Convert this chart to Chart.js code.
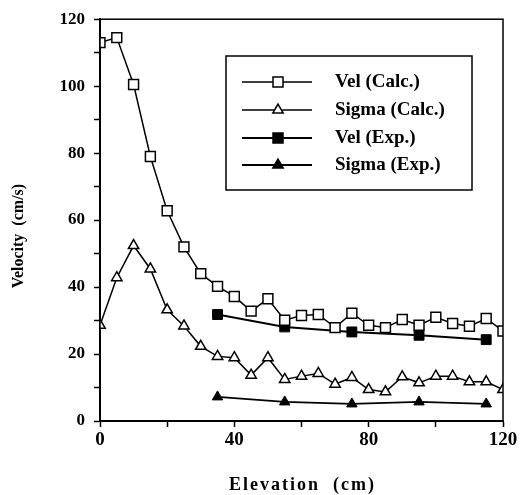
<!DOCTYPE html>
<html>
<head>
<meta charset="utf-8">
<script src="https://cdn.jsdelivr.net/npm/chart.js@4"></script>
<style>
  html, body { margin: 0; padding: 0; background: #fff; }
  #wrap { width: 520px; height: 495px; }
</style>
</head>
<body>
<div id="wrap"><canvas id="myChart" width="520" height="495"></canvas></div>
<script>
"use strict";

// elevations (cm)
const elevCalc = [0, 5, 10, 15, 20, 25, 30, 35, 40, 45, 50, 55, 60, 65, 70, 75, 80, 85, 90, 95, 100, 105, 110, 115, 120];
const elevExp = [35, 55, 75, 95, 115];

// velocities (cm/s)
const velCalc = [113, 114.5, 100.5, 79, 62.8, 52, 44, 40.2, 37.2, 32.8, 36.5, 30.1, 31.5, 31.8, 27.9, 32.2, 28.6, 27.9, 30.3, 28.6, 31, 29.1, 28.3, 30.6, 26.9];
const sigmaCalc = [28.6, 42.8, 52.4, 45.4, 33.2, 28.4, 22.3, 19.3, 18.9, 13.7, 18.9, 12.4, 13.4, 14.2, 11, 13, 9.4, 8.7, 13.2, 11.4, 13.4, 13.4, 11.7, 11.7, 9.4];
const velExp = [31.8, 28.1, 26.6, 25.6, 24.3];
const sigmaExp = [7.2, 5.7, 5.1, 5.7, 5.1];

const seriesLabels = ['Vel (Calc.)', 'Sigma (Calc.)', 'Vel (Exp.)', 'Sigma (Exp.)'];
const xTicks = [0, 40, 80, 120];
const yTicks = [0, 20, 40, 60, 80, 100, 120];
const xTitle = 'Elevation  (cm)';
const yTitle = 'Velocity  (cm/s)';

const serif = '"Liberation Serif", "Times New Roman", serif';

function pairs(xs, ys) {
    return xs.map((x, i) => ({ x: x, y: ys[i] }));
}

// box around the plot, axis titles, and the legend drawn inside the plot
const frameLegend = {
    id: 'frameLegend',
    afterDraw(chart) {
        const ctx = chart.ctx;
        const a = chart.chartArea;
        ctx.save();
        ctx.strokeStyle = '#000';
        ctx.lineWidth = 1.5;
        ctx.strokeRect(a.left, a.top, a.right - a.left, a.bottom - a.top);

        // axis titles
        ctx.fillStyle = '#000';
        ctx.textAlign = 'center';
        ctx.textBaseline = 'middle';
        ctx.font = 'bold 18px ' + serif;
        ctx.letterSpacing = '2px';
        ctx.fillText(xTitle, (a.left + a.right) / 2 + 1, 485);
        ctx.letterSpacing = '0px';
        ctx.save();
        ctx.translate(19, 236);
        ctx.rotate(-Math.PI / 2);
        ctx.font = 'bold 16px ' + serif;
        ctx.fillText(yTitle, 0, 0);
        ctx.restore();

        // legend
        const bx = 226, by = 56, bw = 246, bh = 134;
        ctx.lineWidth = 1.5;
        ctx.strokeRect(bx, by, bw, bh);
        const rowY = [82, 110, 138, 165];
        chart.data.datasets.forEach((ds, i) => {
            const y = rowY[i];
            ctx.strokeStyle = '#000';
            ctx.lineWidth = ds.borderWidth;
            ctx.beginPath();
            ctx.moveTo(242, y);
            ctx.lineTo(312, y);
            ctx.stroke();
            ctx.fillStyle = ds.pointBackgroundColor;
            ctx.lineWidth = 1.5;
            ctx.beginPath();
            if (ds.pointStyle === 'rect') {
                ctx.rect(278 - 5, y - 5, 10, 10);
            } else {
                const r = ds.pointRadius;
                ctx.moveTo(278, y - r);
                ctx.lineTo(278 + r * Math.sin(2 * Math.PI / 3), y - r * Math.cos(2 * Math.PI / 3));
                ctx.lineTo(278 - r * Math.sin(2 * Math.PI / 3), y - r * Math.cos(2 * Math.PI / 3));
                ctx.closePath();
            }
            ctx.fill();
            ctx.stroke();
            ctx.fillStyle = '#000';
            ctx.font = 'bold 19px ' + serif;
            ctx.textBaseline = 'middle';
            ctx.textAlign = 'left';
            ctx.fillText(ds.label, 335, y);
        });
        ctx.restore();
    }
};

const ctx = document.getElementById('myChart');

new Chart(ctx, {
    type: 'line',
    data: {
        datasets: [{
            label: seriesLabels[0],
            data: pairs(elevCalc, velCalc),
            borderColor: '#000',
            borderWidth: 1.5,
            pointStyle: 'rect',
            pointRadius: 7,
            pointBorderWidth: 1.5,
            pointBorderColor: '#000',
            pointBackgroundColor: '#fff'
        }, {
            label: seriesLabels[1],
            data: pairs(elevCalc, sigmaCalc),
            borderColor: '#000',
            borderWidth: 1.5,
            pointStyle: 'triangle',
            pointRadius: 6,
            pointBorderWidth: 1.5,
            pointBorderColor: '#000',
            pointBackgroundColor: '#fff'
        }, {
            label: seriesLabels[2],
            data: pairs(elevExp, velExp),
            borderColor: '#000',
            borderWidth: 2,
            pointStyle: 'rect',
            pointRadius: 7,
            pointBorderWidth: 1,
            pointBorderColor: '#000',
            pointBackgroundColor: '#000'
        }, {
            label: seriesLabels[3],
            data: pairs(elevExp, sigmaExp),
            borderColor: '#000',
            borderWidth: 1.8,
            pointStyle: 'triangle',
            pointRadius: 6,
            pointBorderWidth: 1,
            pointBorderColor: '#000',
            pointBackgroundColor: '#000'
        }]
    },
    options: {
        responsive: false,
        animation: false,
        events: [],
        layout: {
            padding: { top: 18, right: 17, left: 0, bottom: 0 }
        },
        plugins: {
            legend: { display: false },
            tooltip: { enabled: false }
        },
        scales: {
            x: {
                type: 'linear',
                min: 0,
                max: 120,
                afterFit(scale) { scale.height = 74; },
                ticks: {
                    stepSize: 20,
                    color: '#000',
                    padding: 2,
                    maxRotation: 0,
                    font: { family: serif, size: 19, weight: 'bold' },
                    callback: (v) => xTicks.includes(v) ? String(v) : ''
                },
                grid: {
                    drawOnChartArea: false,
                    drawTicks: true,
                    tickLength: 6,
                    tickColor: '#000',
                    tickWidth: 1.5
                },
                border: { color: '#000', width: 2 }
            },
            y: {
                type: 'linear',
                min: 0,
                max: 120,
                afterFit(scale) { scale.width = 100; },
                ticks: {
                    stepSize: 10,
                    color: '#000',
                    padding: 9,
                    font: { family: serif, size: 17, weight: 'bold' },
                    callback: (v) => yTicks.includes(v) ? String(v) : ''
                },
                grid: {
                    drawOnChartArea: false,
                    drawTicks: true,
                    tickLength: 6,
                    tickColor: '#000',
                    tickWidth: 1.5
                },
                border: { color: '#000', width: 2 }
            }
        }
    },
    plugins: [frameLegend]
});
</script>
</body>
</html>
